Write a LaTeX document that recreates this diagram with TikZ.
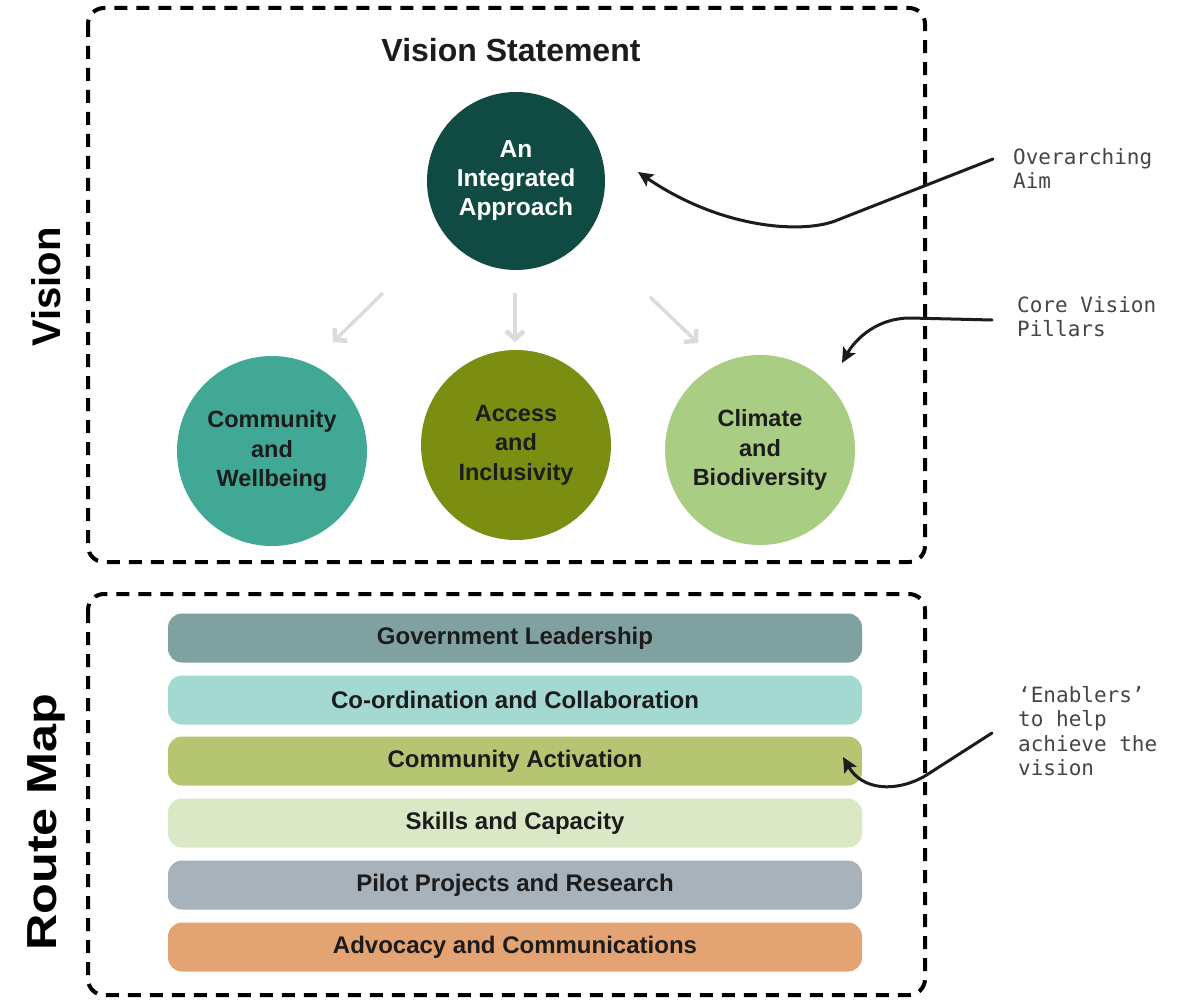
\documentclass[tikz,border=0pt]{standalone}
\usepackage{fontspec}
\setmainfont{Liberation Sans}
\setmonofont{DejaVu Sans Mono}
\usetikzlibrary{arrows.meta}

\definecolor{aimcol}{HTML}{0F4B43}
\definecolor{comcol}{HTML}{41A896}
\definecolor{acccol}{HTML}{7B8E12}
\definecolor{clicol}{HTML}{A9CD82}
\definecolor{govcol}{HTML}{7FA19F}
\definecolor{coocol}{HTML}{A3D9D0}
\definecolor{actcol}{HTML}{B6C572}
\definecolor{skicol}{HTML}{DBE8C5}
\definecolor{pilcol}{HTML}{A8B2BA}
\definecolor{advcol}{HTML}{E3A373}
\definecolor{softgrey}{HTML}{D9DCDC}
\definecolor{inkcol}{HTML}{1C1C1C}
\definecolor{notecol}{HTML}{454545}

\tikzset{
  frame/.style={draw=black, line width=4pt, dash pattern=on 13pt off 9pt, rounded corners=16pt},
  pillar/.style={circle, minimum size=190pt, inner sep=0pt, align=center, text=inkcol,
    font=\bfseries\fontsize{23.5}{29.5}\selectfont},
  enabler/.style={rectangle, rounded corners=14pt, minimum width=694pt, minimum height=49pt,
    inner sep=0pt, text=inkcol, font=\bfseries\fontsize{24}{28}\selectfont},
  sidelabel/.style={rotate=90, text=black, font=\bfseries\fontsize{#1}{#1}\selectfont},
  note/.style={anchor=north west, inner sep=0pt, align=left, text=notecol,
    font=\ttfamily\fontsize{21}{24.5}\selectfont},
  callout/.style={draw=inkcol, line width=3pt, line cap=round,
    -{Stealth[length=15pt, width=14pt, inset=3pt]}},
  pointer/.style={draw=softgrey, line width=3.5pt,
    -{Straight Barb[length=8pt, width=18pt, line width=4.5pt]}}
}

\begin{document}
\begin{tikzpicture}[x=1pt, y=-1pt]
\useasboundingbox (0,0) rectangle (1196,1000);
\fill[white] (0,0) rectangle (1196,1000);

% two dashed panels
\draw[frame] (88,8) rectangle (925,562);
\draw[frame] (88,594) rectangle (925,995);

% panel titles
\node[sidelabel=40] (lvision) at (46,287) {Vision};
\node[sidelabel=42] (lroute) at (46,822) {\scalebox{1.2}[1]{Route Map}};

% vision part
\node[font=\bfseries\fontsize{32}{36}\selectfont, text=inkcol] (title) at (511,50) {Vision Statement};
\node[circle, fill=aimcol, minimum size=178pt, inner sep=0pt, align=center, text=white,
  font=\bfseries\fontsize{24.5}{29}\selectfont] (aim) at (516,181) {An\\Integrated\\Approach};

\node[pillar, fill=comcol] (community) at (272,451) {Community\\and\\Wellbeing};
\node[pillar, fill=acccol] (access) at (516,445) {Access\\and\\Inclusivity};
\node[pillar, fill=clicol] (climate) at (760,450) {Climate\\and\\Biodiversity};

% soft arrows from the aim to the pillars
\coordinate (g1s) at (383,293); \coordinate (g1e) at (333,342);
\coordinate (g2s) at (515,293); \coordinate (g2e) at (515,342);
\coordinate (g3s) at (650,297); \coordinate (g3e) at (698,343);
\draw[pointer] (g1s) -- (g1e);
\draw[pointer] (g2s) -- (g2e);
\draw[pointer] (g3s) -- (g3e);

% route map enablers
\node[enabler, fill=govcol] (gov) at (515,638) {Government Leadership};
\node[enabler, fill=coocol] (coord) at (515,700) {Co-ordination and Collaboration};
\node[enabler, fill=actcol] (activ) at (515,761) {Community Activation};
\node[enabler, fill=skicol] (skills) at (515,823) {Skills and Capacity};
\node[enabler, fill=pilcol] (pilot) at (515,885) {Pilot Projects and Research};
\node[enabler, fill=advcol] (advoc) at (515,947) {Advocacy and Communications};

% side notes
\node[note] (naim) at (1013,148) {Overarching\\Aim};
\node[note] (npillars) at (1017,296) {Core Vision\\Pillars};
\node[note] (nenable) at (1018,686) {‘Enablers’\\to help\\achieve the\\vision};

% callout arrows
\coordinate (c1s) at (993,159); \coordinate (c1e) at (638,172);
\coordinate (c2s) at (992,320); \coordinate (c2e) at (842,363);
\coordinate (c3s) at (992,733); \coordinate (c3e) at (843,757);
\draw[callout] (c1s) -- (835,221) .. controls (800,234) and (720,228) .. (c1e);
\draw[callout] (c2s) -- (910,318) .. controls (878,318) and (856,338) .. (c2e);
\draw[callout] (c3s) -- (925,776) .. controls (895,793) and (862,790) .. (c3e);
\end{tikzpicture}
\end{document}
